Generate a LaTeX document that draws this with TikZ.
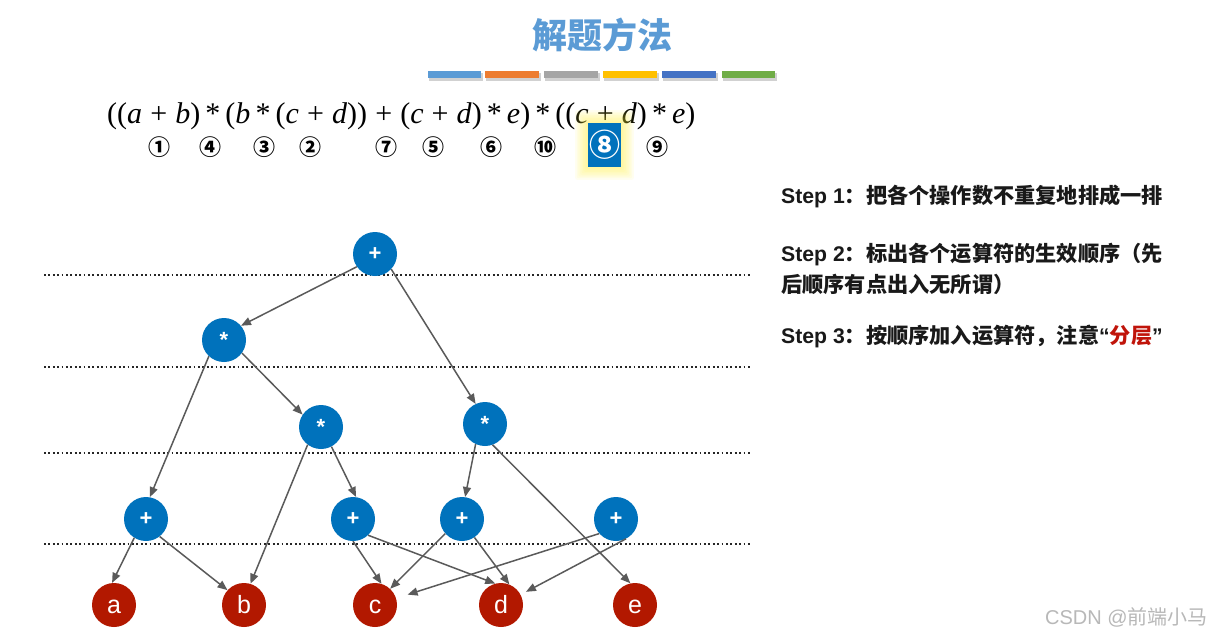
\documentclass[tikz,border=0pt]{standalone}
\usepackage{fontspec}
\setmainfont{Liberation Serif}
\setsansfont{Liberation Sans}
\newfontfamily\cjk{Noto Sans CJK SC}
\usetikzlibrary{arrows.meta}
\definecolor{nodeblue}{RGB}{0,114,188}
\definecolor{leafred}{RGB}{178,24,0}
\definecolor{edgegray}{RGB}{90,90,90}
\definecolor{titleblue}{RGB}{91,155,213}
\definecolor{barA}{RGB}{91,155,213}
\definecolor{barB}{RGB}{237,125,49}
\definecolor{barC}{RGB}{165,165,165}
\definecolor{barD}{RGB}{255,192,0}
\definecolor{barE}{RGB}{68,114,196}
\definecolor{barF}{RGB}{112,173,71}
\definecolor{txt}{RGB}{25,25,25}
\definecolor{accent}{RGB}{192,20,10}
\newcommand{\fplus}{\hspace{0.27em}+\hspace{0.27em}}
\newcommand{\ftimes}{\hspace{0.17em}*\hspace{0.17em}}
\begin{document}
\begin{tikzpicture}[x=1pt,y=-1pt,
  op/.style={circle, fill=nodeblue, minimum size=44pt, inner sep=0pt, text=white,
    font=\sffamily\bfseries\fontsize{22}{22}\selectfont},
  leaf/.style={circle, fill=leafred, minimum size=44pt, inner sep=0pt, text=white,
    text height=16pt, text depth=0pt, font=\sffamily\fontsize{25}{25}\selectfont},
  edge/.style={draw=edgegray, line width=1.5pt, -{Triangle[length=10pt,width=8pt]}},
  sep/.style={draw=black!85, line width=1.8pt, dash pattern=on 1.8pt off 2.6pt},
  bar/.style={fill=#1},
  barshadow/.style={fill=black, opacity=0.18},
  circnum/.style={font=\cjk\bfseries\fontsize{22}{22}\selectfont, inner sep=0pt},
  steptext/.style={anchor=west, inner sep=0pt, text=txt, align=left,
    font=\fontsize{21.2}{31}\selectfont}
]
\fill[white] (0,0) rectangle (1231,638);
\useasboundingbox (0,0) rectangle (1231,638);

% title
\node[text=titleblue, font=\cjk\bfseries\fontsize{35}{35}\selectfont] (title) at (602,35) {解题方法};

% colour bars
\foreach \xa/\xb/\c in {428/481/barA, 485/539/barB, 544/598/barC, 603/657/barD, 662/716/barE, 722/775/barF}{
  \fill[barshadow] (\xa+1,73) rectangle (\xb+2,80.5);
  \fill[bar=\c] (\xa,71) rectangle (\xb,77.7);
}

% formula
\node[anchor=base west, inner sep=0pt, font=\fontsize{30}{30}\selectfont] (formula) at (107,123)
  {((\textit{a}\fplus\textit{b})\ftimes(\textit{b}\ftimes(\textit{c}\fplus\textit{d}))\fplus(\textit{c}\fplus\textit{d})\ftimes\textit{e})\ftimes((\textit{c}\fplus\textit{d})\ftimes\textit{e})};

% highlight glow and box for 8
\foreach \i in {1,...,8}{
  \fill[yellow!80!white, opacity=0.07, rounded corners=2pt] (588-1.6*\i,123-1.6*\i) rectangle (621+1.6*\i,167+1.6*\i);
}
\node[fill=nodeblue, minimum width=33pt, minimum height=44pt, inner sep=0pt] (hl) at (604.5,145) {};
\node[font=\cjk\bfseries\fontsize{31}{31}\selectfont, text=white, inner sep=0pt] (n8) at (605,145) {⑧};

% circled numbers
\node[circnum] (n1) at (159,147) {①};
\node[circnum] (n4) at (210,147) {④};
\node[circnum] (n3) at (264,147) {③};
\node[circnum] (n2) at (310,147) {②};
\node[circnum] (n7) at (386,147) {⑦};
\node[circnum] (n5) at (433,147) {⑤};
\node[circnum] (n6) at (491,147) {⑥};
\node[circnum] (n10) at (545,147) {⑩};
\node[circnum] (n9) at (657,147) {⑨};

% steps
\node[steptext] (s1) at (781,196) {{\sffamily\bfseries Step 1}{\cjk\bfseries ：把各个操作数不重复地排成一排}};
\node[steptext] (s2) at (781,268.5) {{\sffamily\bfseries Step 2}{\cjk\bfseries ：标出各个运算符的生效顺序（先}\\{\cjk\bfseries 后顺序有点出入无所谓）}};
\node[steptext] (s3) at (781,336) {{\sffamily\bfseries Step 3}{\cjk\bfseries ：按顺序加入运算符，注意}{\sffamily\bfseries “}{\cjk\bfseries\color{accent}分层}{\sffamily\bfseries ”}};

% separators
\draw[sep] (44,275) -- (750,275);
\draw[sep] (44,367) -- (750,367);
\draw[sep] (44,453) -- (750,453);
\draw[sep] (44,544) -- (750,544);

% operator nodes
\node[op] (root) at (375,254) {+};
\node[op] (m2) at (224,340) {*};
\node[op] (m3l) at (321,427) {*};
\node[op] (m3r) at (485,424) {*};
\node[op] (p1) at (146,519) {+};
\node[op] (p2) at (353,519) {+};
\node[op] (p3) at (462,519) {+};
\node[op] (p4) at (616,519) {+};

% operand nodes
\node[leaf] (a) at (114,605) {a};
\node[leaf] (b) at (244,605) {b};
\node[leaf] (c) at (375,605) {c};
\node[leaf] (d) at (501,605) {d};
\node[leaf] (e) at (635,605) {e};

% edges
\draw[edge] (root.215) -- (m2.40);
\draw[edge] (root.317) -- (m3r.115);
\draw[edge] (m2.227) -- (p1.80);
\draw[edge] (m2.324) -- (m3l.146);
\draw[edge] (m3l.233) -- (b.73);
\draw[edge] (m3l.298) -- (p2.82);
\draw[edge] (m3r.245) -- (p3.82);
\draw[edge] (m3r.290) -- (e.102);
\draw[edge] (p1.238) -- (a.95);
\draw[edge] (p1.308) -- (b.138);
\draw[edge] (p2.270) -- (c.73);
\draw[edge] (p2.313) -- (d.105);
\draw[edge] (p3.221) -- (c.47);
\draw[edge] (p3.304) -- (d.68);
\draw[edge, shorten >=12pt] (p4.221) -- (c);
\draw[edge, shorten >=6pt] (p4.297) -- (d);

% watermark
\node[anchor=west, inner sep=0pt, text=black!28, font=\fontsize{20}{20}\selectfont] (wm) at (1045,617)
  {{\sffamily CSDN @}{\cjk 前端小马}};
\end{tikzpicture}
\end{document}
